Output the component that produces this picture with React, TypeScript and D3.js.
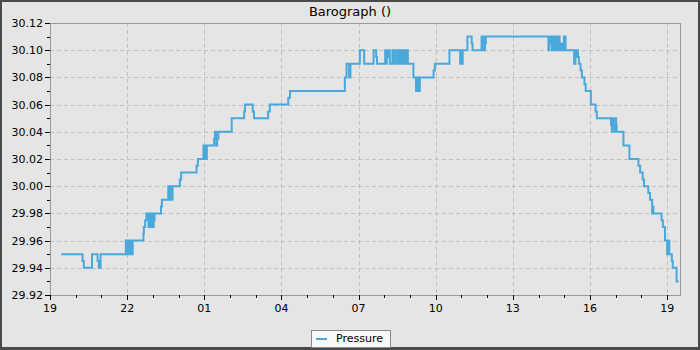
import React from "react";
import * as d3 from "d3";

const title = "Barograph ()";
const seriesName = "Pressure";

// time stamps ("day hh:mm") and pressure readings (inHg)
const times: string[] = [
  "19 19:26","19 20:16","19 20:19","19 20:38","19 20:51","19 20:54","19 20:58",
  "19 21:57","19 21:59","19 22:01","19 22:03","19 22:05","19 22:07","19 22:09","19 22:11","19 22:13",
  "19 22:38","19 22:39","19 22:42","19 22:45","19 22:47","19 22:48","19 22:50","19 22:53","19 22:54",
  "19 22:55","19 22:56","19 22:58","19 22:59","19 23:02","19 23:03","19 23:04","19 23:19","19 23:21",
  "19 23:36","19 23:38","19 23:40","19 23:42","19 23:44","19 23:45","19 23:46",
  "20 00:03","20 00:06","20 00:42","20 00:45","20 00:58","20 01:00","20 01:01","20 01:03","20 01:04",
  "20 01:05","20 01:06","20 01:23","20 01:25","20 01:28","20 01:30","20 01:33","20 02:04","20 02:33",
  "20 02:35","20 02:53","20 02:56","20 03:29","20 03:33","20 04:16","20 04:20","20 06:28","20 06:32",
  "20 06:38","20 06:41","20 07:03","20 07:13","20 07:35","20 07:41","20 07:43","20 08:02","20 08:04",
  "20 08:06","20 08:08","20 08:10","20 08:13","20 08:19","20 08:21","20 08:23","20 08:25","20 08:28",
  "20 08:30","20 08:32","20 08:34","20 08:36","20 08:38","20 08:40","20 08:42","20 08:44","20 08:46",
  "20 08:48","20 08:50","20 08:52","20 08:54","20 08:55","20 09:08","20 09:14","20 09:16","20 09:18",
  "20 09:20","20 09:21","20 09:23","20 09:55","20 09:58","20 10:32","20 10:57","20 10:59","20 11:01",
  "20 11:03","20 11:14","20 11:24","20 11:26","20 11:47","20 11:49","20 11:51","20 11:53","20 11:55",
  "20 11:56","20 11:57","20 14:23","20 14:25","20 14:27","20 14:29","20 14:31","20 14:33","20 14:35",
  "20 14:37","20 14:39","20 14:41","20 14:43","20 14:45","20 14:47","20 14:49","20 14:51","20 14:52",
  "20 14:56","20 14:57","20 14:59","20 15:03","20 15:23","20 15:26","20 15:28","20 15:30","20 15:32",
  "20 15:34","20 15:38","20 15:41","20 15:47","20 15:50","20 16:02","20 16:13","20 16:16","20 16:49",
  "20 16:51","20 16:53","20 16:55","20 16:58","20 17:00","20 17:01","20 17:02","20 17:18","20 17:32",
  "20 17:53","20 17:57","20 18:03","20 18:06","20 18:16","20 18:20","20 18:25","20 18:26","20 18:28",
  "20 18:47","20 18:50","20 18:55","20 19:00","20 19:02","20 19:03","20 19:04","20 19:05","20 19:11",
  "20 19:13","20 19:22","20 19:27"
];

const pressure: number[] = [
  29.95,29.945,29.94,29.95,29.945,29.94,29.95,
  29.96,29.95,29.96,29.95,29.96,29.95,29.96,29.95,29.96,
  29.965,29.97,29.975,29.98,29.975,29.98,29.97,29.98,29.975,
  29.98,29.97,29.98,29.97,29.98,29.975,29.98,29.985,29.99,
  30.00,29.99,30.00,29.99,30.00,29.99,30.00,
  30.005,30.01,30.015,30.02,30.03,30.02,30.03,30.02,30.03,
  30.02,30.03,30.035,30.04,30.03,30.035,30.04,30.05,30.055,
  30.06,30.055,30.05,30.055,30.06,30.065,30.07,30.08,30.09,
  30.08,30.09,30.10,30.09,30.10,30.095,30.09,30.10,30.09,
  30.10,30.095,30.10,30.09,30.10,30.09,30.10,30.095,30.09,
  30.10,30.09,30.10,30.09,30.10,30.09,30.10,30.09,30.10,
  30.09,30.10,30.09,30.10,30.09,30.08,30.07,30.08,30.07,
  30.08,30.07,30.08,30.085,30.09,30.10,30.09,30.10,30.09,
  30.10,30.11,30.105,30.10,30.11,30.10,30.11,30.10,30.11,
  30.105,30.11,30.10,30.11,30.105,30.11,30.10,30.11,30.10,
  30.11,30.10,30.11,30.105,30.10,30.11,30.10,30.105,30.10,
  30.105,30.10,30.11,30.10,30.09,30.10,30.095,30.10,30.095,
  30.09,30.085,30.08,30.075,30.07,30.06,30.055,30.05,30.045,
  30.04,30.05,30.045,30.04,30.05,30.045,30.04,30.03,30.02,
  30.015,30.01,30.005,30.00,29.995,29.99,29.98,29.985,29.98,
  29.975,29.97,29.96,29.95,29.96,29.95,29.96,29.95,29.945,
  29.94,29.93,29.93
];

const xDomain = ["19 19:00", "20 19:30"];
const yDomain = [29.92, 30.12];

const W = 700, H = 350;
const M = { left: 50, right: 680, top: 23, bottom: 295 };
const FONT = "DejaVu Sans, sans-serif";
const LINE = "#4aa8db";

export default function App() {
  const parse = d3.timeParse("%d %H:%M");
  const data = times.map((t, i) => ({ t: parse(t) as Date, v: pressure[i] }));
  const x0 = parse(xDomain[0]) as Date;
  const x1 = parse(xDomain[1]) as Date;
  const x = d3.scaleTime().domain([x0, x1]).range([M.left, M.right]);
  const y = d3.scaleLinear().domain(yDomain).range([M.bottom, M.top]);

  const yMajor = y.ticks(10);
  const yMinor = y.ticks(20).filter((v) => !yMajor.some((m) => Math.abs(m - v) < 1e-6));
  const xMajor = d3.timeHour.range(x0, x1, 3);
  const xAll = d3.timeHour.range(x0, x1);
  const xMinor = xAll.filter((d) => !xMajor.some((m) => +m === +d));
  const fmtX = d3.timeFormat("%H");
  const fmtY = d3.format(".2f");

  const line = d3
    .line<{ t: Date; v: number }>()
    .x((d) => x(d.t))
    .y((d) => y(d.v))
    .curve(d3.curveStepAfter);

  return (
    <svg width={W} height={H} style={{ position: "absolute", left: 0, top: 0 }} fontFamily={FONT}>
      <rect x={0} y={0} width={W} height={H} fill="#4a4a4a" />
      <rect x={2} y={2} width={W - 4} height={H - 5} fill="#e5e5e5" />
      <text x={350} y={16} textAnchor="middle" fontSize={13} fill="#000">{title}</text>

      {/* grid */}
      {yMajor.map((v, i) => (
        <line key={"gy" + i} x1={M.left} x2={M.right} y1={Math.round(y(v)) + 0.5} y2={Math.round(y(v)) + 0.5}
          stroke="#c0c0c0" strokeDasharray="4,3" />
      ))}
      {xMajor.map((d, i) => (
        <line key={"gx" + i} y1={M.top} y2={M.bottom} x1={Math.round(x(d)) + 0.5} x2={Math.round(x(d)) + 0.5}
          stroke="#c0c0c0" strokeDasharray="4,3" />
      ))}

      {/* frame */}
      <line x1={M.left} x2={M.right} y1={M.top + 0.5} y2={M.top + 0.5} stroke="#999" />
      <line x1={M.right + 0.5} x2={M.right + 0.5} y1={M.top} y2={M.bottom} stroke="#999" />
      <line x1={M.left + 0.5} x2={M.left + 0.5} y1={M.top} y2={M.bottom + 1} stroke="#999" />
      <line x1={M.left} x2={M.right + 1} y1={M.bottom + 0.5} y2={M.bottom + 0.5} stroke="#999" />

      {/* y ticks */}
      {yMajor.map((v, i) => (
        <g key={"ty" + i}>
          <line x1={M.left - 5} x2={M.left} y1={Math.round(y(v)) + 0.5} y2={Math.round(y(v)) + 0.5} stroke="#000" />
          <text x={M.left - 7} y={y(v) + 4} textAnchor="end" fontSize={11} fill="#000">{fmtY(v)}</text>
        </g>
      ))}
      {yMinor.map((v, i) => (
        <line key={"ym" + i} x1={M.left - 3} x2={M.left} y1={Math.round(y(v)) + 0.5} y2={Math.round(y(v)) + 0.5} stroke="#000" />
      ))}
      {/* x ticks */}
      {xMajor.map((d, i) => (
        <g key={"tx" + i}>
          <line x1={Math.round(x(d)) + 0.5} x2={Math.round(x(d)) + 0.5} y1={M.bottom} y2={M.bottom + 5} stroke="#000" />
          <text x={x(d)} y={M.bottom + 17} textAnchor="middle" fontSize={11} fill="#000">{fmtX(d)}</text>
        </g>
      ))}
      {xMinor.map((d, i) => (
        <line key={"xm" + i} x1={Math.round(x(d)) + 0.5} x2={Math.round(x(d)) + 0.5} y1={M.bottom} y2={M.bottom + 3} stroke="#000" />
      ))}

      <path d={line(data) || ""} fill="none" stroke={LINE} strokeWidth={2} />

      {/* legend */}
      <rect x={311.5} y={330.5} width={79} height={17} fill="#f8f8f8" stroke="#888" />
      <line x1={316} x2={327} y1={339} y2={339} stroke={LINE} strokeWidth={2} />
      <text x={336} y={342} fontSize={11} fill="#000">{seriesName}</text>
    </svg>
  );
}
